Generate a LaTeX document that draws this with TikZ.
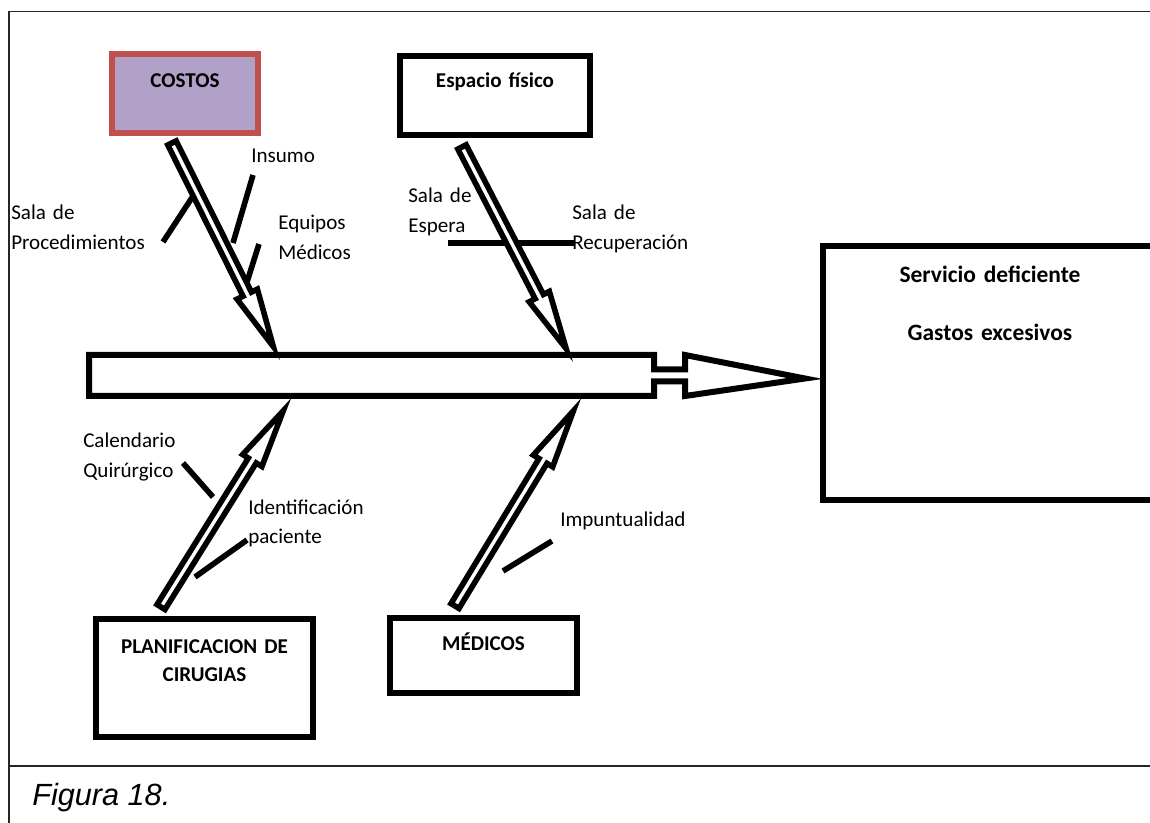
\documentclass[tikz,border=0pt]{standalone}
\usepackage{fontspec}
\setmainfont{Carlito}
\newfontfamily\capfont{Liberation Sans}
\usepackage{tikz}
\usetikzlibrary{calc}
\definecolor{costfill}{HTML}{B1A0C7}
\definecolor{costline}{HTML}{C0504D}
\newcommand{\bone}[2]{%
  \path ($(#2)!9.5pt!(#1)$) coordinate (bt);
  \path ($(bt)!44pt!(#1)$) coordinate (bh);
  \draw[bn] ($(#1)!3.5pt!90:(bt)$) -- ($(bh)!3.5pt!90:(bt)$) -- ($(bh)!8.5pt!90:(bt)$)
    -- (bt) -- ($(bh)!8.5pt!-90:(bt)$) -- ($(bh)!3.5pt!-90:(bt)$)
    -- ($(#1)!3.5pt!-90:(bt)$) -- cycle;
}

\begin{document}
\begin{tikzpicture}[x=0.75pt, y=-0.75pt,
  font=\fontsize{15.8}{22}\selectfont,
  cb/.style={draw, line width=4.5pt, anchor=north, inner sep=0pt, align=center, font=\bfseries\fontsize{15.8}{21}\selectfont},
  lb/.style={anchor=base west, inner sep=0pt, align=left, text width=4.5cm},
  tw/.style={line width=4.2pt},
  bn/.style={draw, line width=4.2pt, fill=white},
  sp/.style={draw, line width=4.5pt, fill=white},
  fr/.style={draw=black!85, line width=1.3pt}
]
\useasboundingbox (0,0) rectangle (1150,823);
\clip (0,0) rectangle (1150,823);
\draw[fr] (9,11.5) rectangle (1175,850);
\draw[fr] (9,766) -- (1175,766);

\node[cb, draw=costline, fill=costfill, text width=109.5pt, text height=25.5pt, text depth=33.75pt] (costos) at (185,51) {COSTOS};
\node[cb, text width=142.5pt, text height=24pt, text depth=35.25pt] (espacio) at (495,53) {Espacio físico};
\node[cb, text width=162.75pt, text height=25.5pt, text depth=63pt] (plan) at (204.5,616) {PLANIFICACION DE\\CIRUGIAS};
\node[cb, text width=140.25pt, text height=24pt, text depth=32.25pt] (medicos) at (483.5,615) {MÉDICOS};
\node[cb, text width=250.5pt, text height=27.75pt, text depth=162.75pt, font=\bfseries\fontsize{17.6}{21.5}\selectfont] (efecto) at (990,243) {Servicio deficiente\\[22pt]Gastos excesivos};

\coordinate (punta) at ($(efecto.west)+(-15,5.5)$);
\draw[sp] (89,355) -- (654,355) -- (654,369.5) -- (685,369.5) -- (685,355) -- (punta)
  -- (685,396) -- (685,381.5) -- (654,381.5) -- (654,396) -- (89,396) -- cycle;

\path (163,242) coordinate (w1a) (195,193) coordinate (w1b)
      (253,175) coordinate (w2a) (233,243) coordinate (w2b)
      (259,244) coordinate (w3a) (247,282) coordinate (w3b)
      (448,243) coordinate (w4a) (513,243) coordinate (w4b)
      (513,243) coordinate (w5a) (575,243) coordinate (w5b)
      (183,463) coordinate (w6a) (213,497) coordinate (w6b)
      (247,540) coordinate (w7a) (195,577) coordinate (w7b)
      (552,541) coordinate (w8a) (503,571) coordinate (w8b);
\foreach \i in {1,...,8} \draw[tw] (w\i a) -- (w\i b);

\coordinate (c1) at ($(costos.south)+(-13,7)$);
\coordinate (c2) at ($(espacio.south)+(-33,9)$);
\coordinate (c3) at ($(plan.north)+(-43.5,-9)$);
\coordinate (c4) at ($(medicos.north)+(-28.5,-9)$);
\coordinate (t1) at (279,358);
\coordinate (t2) at (572,360);
\coordinate (t3) at (290,400);
\coordinate (t4) at (580,400);
\bone{c1}{t1}
\bone{c2}{t2}
\bone{c3}{t3}
\bone{c4}{t4}

\node[lb] (sproc) at (11,220) {Sala de\\Procedimientos};
\node[lb] (insumo) at (251,163) {Insumo};
\node[lb] (equipos) at (278,230) {Equipos\\Médicos};
\node[lb] (sesp) at (408,203) {Sala de\\Espera};
\node[lb] (srec) at (572,220) {Sala de\\Recuperación};
\node[lb] (cal) at (83,448) {Calendario\\Quirúrgico};
\node[lb] (ident) at (248,514) {Identificación\\paciente};
\node[lb] (impunt) at (560,527) {Impuntualidad};

\node[anchor=base west, inner sep=0pt, font=\capfont\itshape\fontsize{23}{27}\selectfont] (fig) at (32,805) {Figura 18.};
\end{tikzpicture}
\end{document}
